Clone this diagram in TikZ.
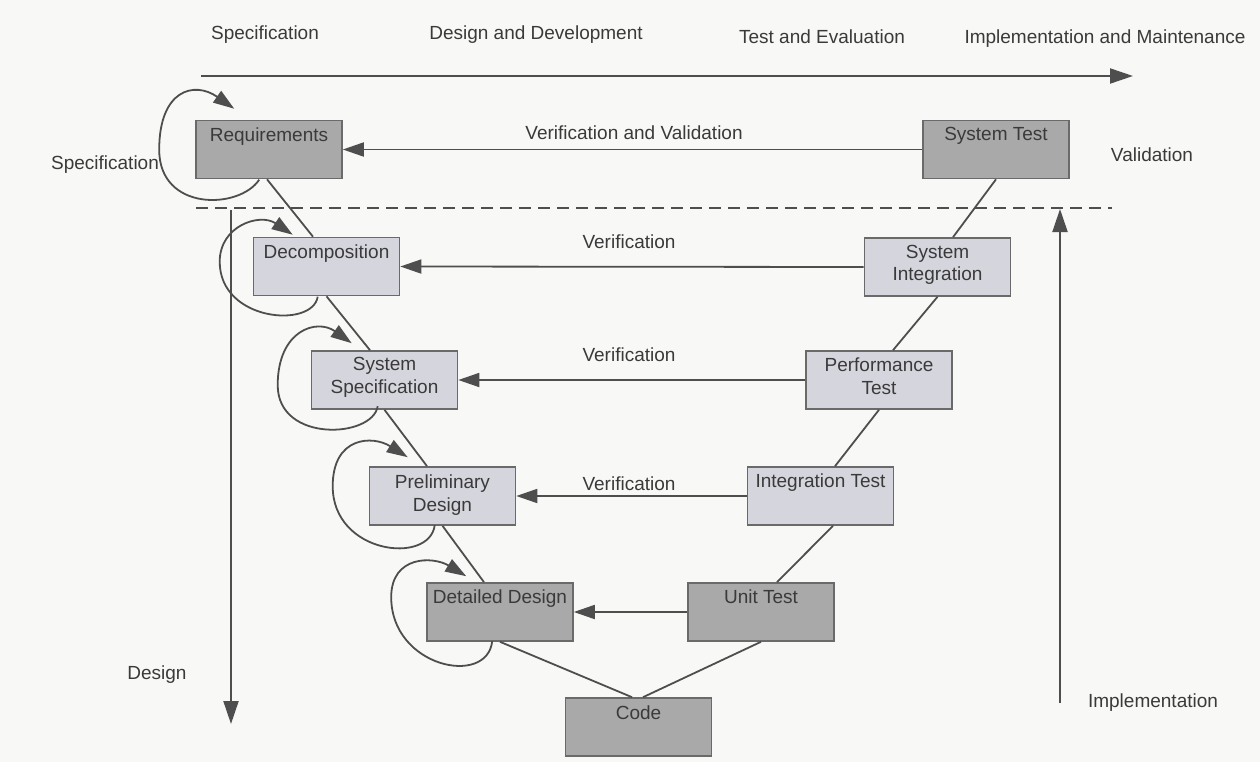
\documentclass[tikz,border=0pt]{standalone}
\usepackage{fontspec}
\setmainfont{Liberation Sans}
\usetikzlibrary{arrows.meta}
\definecolor{paper}{HTML}{F8F8F6}
\definecolor{ink}{HTML}{4E4E4E}
\definecolor{txt}{HTML}{3A3A3A}
\definecolor{edge}{HTML}{6A6A6A}
\definecolor{darkfill}{HTML}{A9A9A9}
\definecolor{lightfill}{HTML}{D5D5DD}

\begin{document}
\begin{tikzpicture}[x=1pt,y=-1pt,
  font=\fontsize{19}{22.5}\selectfont,
  box/.style={draw=edge, line width=1.6pt, minimum width=146pt,
    minimum height=58pt, inner sep=0pt},
  darkbox/.style={box, fill=darkfill},
  lightbox/.style={box, fill=lightfill},
  boxtext/.style={text=txt, inner sep=0pt, align=center, anchor=north},
  caption/.style={text=txt, inner sep=0pt, anchor=base},
  link/.style={draw=ink, line width=1.8pt},
  arr/.style={link, -{Triangle[length=21pt,width=14pt]}},
  phase/.style={draw=ink, line width=2pt, -{Triangle[length=23pt,width=15pt]}},
]
\useasboundingbox (0,0) rectangle (1260,762);
\fill[paper] (0,0) rectangle (1260,762);

% ---- phase axis along the top ----
\node[caption] (phSpec) at (265,40) {Specification};
\node[caption] (phDes)  at (536,40) {Design and Development};
\node[caption] (phTest) at (822,44) {Test and Evaluation};
\node[caption] (phImpl) at (1105,44) {Implementation and Maintenance};
\coordinate (axisL) at (201,76);
\coordinate (axisR) at (1133,76);
\draw[phase] (axisL) -- (axisR);

% ---- boundary between specification and the rest ----
\coordinate (dashL) at (196,208);
\coordinate (dashR) at (1112,208);
\draw[ink, line width=2pt, dash pattern=on 12pt off 7pt] (dashL) -- (dashR);

% ---- left branch of the V ----
\node[darkbox]  (req)    at (269,149.5) {};
\node[lightbox] (dec)    at (326.5,266.5) {};
\node[lightbox] (spec)   at (384.5,380) {};
\node[lightbox] (prelim) at (442.5,496) {};
\node[darkbox]  (detail) at (500,612) {};
\node[darkbox]  (code)   at (638.5,727) {};

% ---- right branch of the V ----
\node[darkbox]  (systest) at (996,149.5) {};
\node[lightbox] (sysint)  at (937.5,267) {};
\node[lightbox] (perf)    at (879,380) {};
\node[lightbox] (integ)   at (820.5,496) {};
\node[darkbox]  (unit)    at (761,612) {};

% box captions
\node[boxtext] (reqT)     at ([yshift=-7.5pt]req.north) {Requirements};
\node[boxtext] (decT)     at ([yshift=-7.5pt]dec.north) {Decomposition};
\node[boxtext] (specT)    at ([yshift=-7pt]spec.north) {System\\Specification};
\node[boxtext] (prelimT)  at ([yshift=-8.5pt]prelim.north) {Preliminary\\Design};
\node[boxtext] (detailT)  at ([yshift=-7.5pt]detail.north) {Detailed Design};
\node[boxtext] (codeT)    at ([yshift=-8pt]code.north) {Code};
\node[boxtext] (systestT) at ([yshift=-7.5pt]systest.north) {System Test};
\node[boxtext] (sysintT)  at ([yshift=-7.5pt]sysint.north) {System\\Integration};
\node[boxtext] (perfT)    at ([yshift=-7.5pt]perf.north) {Performance\\Test};
\node[boxtext] (integT)   at ([yshift=-7.5pt]integ.north) {Integration Test};
\node[boxtext] (unitT)    at ([yshift=-7.5pt]unit.north) {Unit Test};

% ---- the V itself ----
\draw[link] ([xshift=-2pt]req.south)  -- ([xshift=-13.5pt]dec.north);
\draw[link] (dec.south)               -- ([xshift=-14.5pt]spec.north);
\draw[link] (spec.south)              -- ([xshift=-15.5pt]prelim.north);
\draw[link] (prelim.south)            -- ([xshift=-16pt]detail.north);
\draw[link] (detail.south)            -- ([xshift=-6.5pt]code.north);
\draw[link] (unit.south)              -- ([xshift=4.5pt]code.north);
\draw[link] ([xshift=16pt]unit.north) -- ([xshift=12.5pt]integ.south);
\draw[link] ([xshift=14.5pt]integ.north) -- (perf.south);
\draw[link] ([xshift=14pt]perf.north) -- (sysint.south);
\draw[link] ([xshift=15.5pt]sysint.north) -- (systest.south);

% ---- verification feedback ----
\draw[arr] (systest.west) -- (req.east);
\draw[arr] (sysint.west)  -- (dec.east);
\draw[arr] (perf.west)    -- (spec.east);
\draw[arr] (integ.west)   -- (prelim.east);
\draw[arr] (unit.west)    -- (detail.east);
\node[caption] (vvT)  at (634,140) {Verification and Validation};
\node[caption] (v1T)  at (629,248) {Verification};
\node[caption] (v2T)  at (629,361) {Verification};
\node[caption] (v3T)  at (629,490) {Verification};

% ---- iteration loops on the design side ----
\draw[arr] ([shift={(64,60)}]req.north west)
  .. controls +(-20,30) and +(0,62) .. ([shift={(-36,30)}]req.north west)
  .. controls +(0,-60) and +(-40,-28) .. ([shift={(39,-11)}]req.north west);
\draw[arr] ([shift={(65,60)}]dec.north west)
  .. controls +(-5,32) and +(0,60) .. ([shift={(-33,25)}]dec.north west)
  .. controls +(0,-36) and +(-33,-22) .. ([shift={(40,-2)}]dec.north west);
\draw[arr] ([shift={(67,56)}]spec.north west)
  .. controls +(-5,32) and +(0,58) .. ([shift={(-33,35)}]spec.north west)
  .. controls +(0,-55) and +(-35,-25) .. ([shift={(41,-7)}]spec.north west);
\draw[arr] ([shift={(66,59)}]prelim.north west)
  .. controls +(-5,40) and +(0,68) .. ([shift={(-36,20)}]prelim.north west)
  .. controls +(0,-50) and +(-35,-22) .. ([shift={(39,-9)}]prelim.north west);
\draw[arr] ([shift={(66,59)}]detail.north west)
  .. controls +(-5,46) and +(0,70) .. ([shift={(-35,15)}]detail.north west)
  .. controls +(0,-42) and +(-33,-20) .. ([shift={(40,-6)}]detail.north west);

% ---- side axes ----
\coordinate (desTop) at (231,210);
\coordinate (desBot) at (231,724);
\draw[phase] (desTop) -- (desBot);
\coordinate (impBot) at (1060,703);
\coordinate (impTop) at (1060,209);
\draw[phase] (impBot) -- (impTop);

\node[caption] (specL) at (105,170) {Specification};
\node[caption] (valR)  at (1152,162) {Validation};
\node[caption] (desL)  at (157,679) {Design};
\node[caption] (impR)  at (1153,707) {Implementation};
\end{tikzpicture}
\end{document}
